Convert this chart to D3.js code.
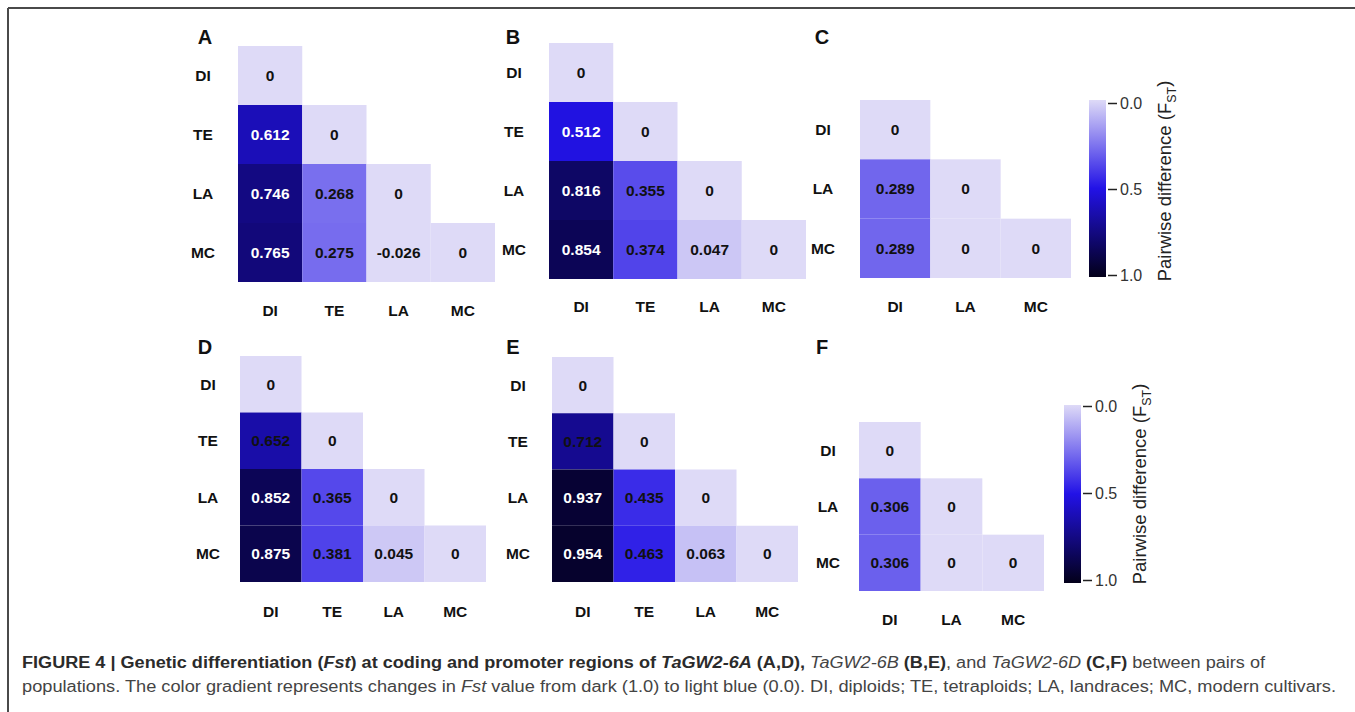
<!DOCTYPE html>
<html>
<head>
<meta charset="utf-8">
<script src="https://cdn.jsdelivr.net/npm/d3@7"></script>
<style>
  html, body { margin: 0; padding: 0; background: #fff; }
  svg { display: block; font-family: "Liberation Sans", Arial, sans-serif; }
</style>
</head>
<body>
<div id="chart"></div>
<script>
// population groups
const pops4 = ["DI", "TE", "LA", "MC"];
const pops3 = ["DI", "LA", "MC"];

// pairwise Fst, lower triangle, row by row
const fstCoding6A = [[0], [0.612, 0], [0.746, 0.268, 0], [0.765, 0.275, -0.026, 0]];
const fstCoding6B = [[0], [0.512, 0], [0.816, 0.355, 0], [0.854, 0.374, 0.047, 0]];
const fstCoding6D = [[0], [0.289, 0], [0.289, 0, 0]];
const fstPromoter6A = [[0], [0.652, 0], [0.852, 0.365, 0], [0.875, 0.381, 0.045, 0]];
const fstPromoter6B = [[0], [0.712, 0], [0.937, 0.435, 0], [0.954, 0.463, 0.063, 0]];
const fstPromoter6D = [[0], [0.306, 0], [0.306, 0, 0]];

const legendTicks = [0, 0.5, 1];

const W = 1355, H = 712;

const svg = d3.select("#chart").append("svg")
    .attr("width", W)
    .attr("height", H);

// frame (left + top rule)
svg.append("line").attr("x1", 8).attr("y1", 8).attr("x2", W).attr("y2", 8)
    .attr("stroke", "#4a4a4a").attr("stroke-width", 2);
svg.append("line").attr("x1", 8).attr("y1", 8).attr("x2", 8).attr("y2", H)
    .attr("stroke", "#4a4a4a").attr("stroke-width", 2);

const color = d3.scaleLinear()
    .domain([0, 0.5, 1])
    .range(["#dedaf7", "#2212e6", "#03001a"])
    .clamp(true);

const fmt = d => d === 0 ? "0" : d3.format(".3f")(d).replace("\u2212", "-");

// panel layout
const panels = [
    {letter: "A", pops: pops4, data: fstCoding6A, x: [238, 495], y: [46, 282], rowX: 203, lx: 205, ly: 37, xLabY: 311, white: 0.5},
    {letter: "B", pops: pops4, data: fstCoding6B, x: [549, 806], y: [43, 279], rowX: 514, lx: 513, ly: 37, xLabY: 307, white: 0.5},
    {letter: "C", pops: pops3, data: fstCoding6D, x: [860, 1071], y: [100, 278], rowX: 823, lx: 822, ly: 37, xLabY: 307, white: 0.5},
    {letter: "D", pops: pops4, data: fstPromoter6A, x: [240, 486], y: [356, 582], rowX: 208, lx: 205, ly: 347, xLabY: 612, white: 0.8},
    {letter: "E", pops: pops4, data: fstPromoter6B, x: [552, 798], y: [357, 582], rowX: 518, lx: 513, ly: 347, xLabY: 612, white: 0.8},
    {letter: "F", pops: pops3, data: fstPromoter6D, x: [859, 1044], y: [422, 591], rowX: 828, lx: 822, ly: 347, xLabY: 620, white: 0.5}
];

panels.forEach(p => {
    const g = svg.append("g");
    const xs = d3.scaleBand().domain(p.pops).range(p.x);
    const ys = d3.scaleBand().domain(p.pops).range(p.y);

    const cells = [];
    p.data.forEach((row, i) => row.forEach((v, j) => {
        cells.push({row: p.pops[i], col: p.pops[j], v: v});
    }));

    g.selectAll("rect").data(cells).enter().append("rect")
        .attr("x", d => xs(d.col))
        .attr("y", d => ys(d.row))
        .attr("width", xs.bandwidth())
        .attr("height", ys.bandwidth())
        .attr("fill", d => color(d.v));

    g.selectAll("text.val").data(cells).enter().append("text")
        .attr("class", "val")
        .attr("x", d => xs(d.col) + xs.bandwidth() / 2)
        .attr("y", d => ys(d.row) + ys.bandwidth() / 2)
        .attr("dy", "0.35em")
        .attr("text-anchor", "middle")
        .attr("font-size", 15.5)
        .attr("font-weight", "bold")
        .attr("fill", d => d.v > p.white ? "#fff" : "#111")
        .text(d => fmt(d.v));

    // row labels
    g.selectAll("text.row").data(p.pops).enter().append("text")
        .attr("class", "row")
        .attr("x", p.rowX)
        .attr("y", d => ys(d) + ys.bandwidth() / 2)
        .attr("dy", "0.35em")
        .attr("text-anchor", "middle")
        .attr("font-size", 15.5)
        .attr("font-weight", "bold")
        .attr("fill", "#111")
        .text(d => d);

    // column labels
    g.selectAll("text.col").data(p.pops).enter().append("text")
        .attr("class", "col")
        .attr("x", d => xs(d) + xs.bandwidth() / 2)
        .attr("y", p.xLabY)
        .attr("dy", "0.35em")
        .attr("text-anchor", "middle")
        .attr("font-size", 15.5)
        .attr("font-weight", "bold")
        .attr("fill", "#111")
        .text(d => d);

    g.append("text")
        .attr("x", p.lx)
        .attr("y", p.ly)
        .attr("dy", "0.35em")
        .attr("text-anchor", "middle")
        .attr("font-size", 20)
        .attr("font-weight", "bold")
        .attr("fill", "#111")
        .text(p.letter);
});

// colour bars
const defs = svg.append("defs");
const grad = defs.append("linearGradient").attr("id", "fstGrad")
    .attr("x1", 0).attr("y1", 0).attr("x2", 0).attr("y2", 1);
d3.range(0, 1.0001, 0.05).forEach(t => {
    grad.append("stop").attr("offset", t).attr("stop-color", color(t));
});

const bars = [
    {x: 1089, y: [100, 277], s: [103, 275], titleX: 1165, titleY: 181},
    {x: 1064, y: [405, 583], s: [406, 580], titleX: 1140, titleY: 484}
];

bars.forEach(b => {
    const g = svg.append("g");
    const bw = 17;
    g.append("rect")
        .attr("x", b.x).attr("y", b.y[0])
        .attr("width", bw).attr("height", b.y[1] - b.y[0])
        .attr("fill", "url(#fstGrad)");

    const sc = d3.scaleLinear().domain([0, 1]).range(b.s);
    const ax = g.append("g")
        .attr("transform", `translate(${b.x + bw + 2},0)`)
        .call(d3.axisRight(sc).tickValues(legendTicks).tickFormat(d3.format(".1f")).tickSize(9).tickPadding(3));
    ax.select(".domain").remove();
    ax.selectAll("line").attr("stroke", "#222").attr("stroke-width", 1.5);
    ax.selectAll("text").attr("font-size", 16).attr("fill", "#333")
        .attr("font-family", "'Liberation Sans', Arial, sans-serif");

    const t = g.append("text")
        .attr("transform", `translate(${b.titleX},${b.titleY}) rotate(-90)`)
        .attr("text-anchor", "middle")
        .attr("dy", "0.35em")
        .attr("font-size", 18.5)
        .attr("fill", "#222");
    t.append("tspan").text("Pairwise difference (F");
    t.append("tspan").attr("font-size", 12.5).attr("dy", "0.35em").text("ST");
    t.append("tspan").attr("dy", "-0.3em").text(")");
});

// caption
const cap1 = svg.append("text")
    .attr("x", 22).attr("y", 668)
    .attr("font-size", 16)
    .attr("fill", "#2b2b2b")
    .attr("textLength", 1243)
    .attr("lengthAdjust", "spacingAndGlyphs");
[
    ["FIGURE 4 | Genetic differentiation (", "bold", "normal"],
    ["Fst", "bold", "italic"],
    [") at coding and promoter regions of ", "bold", "normal"],
    ["TaGW2-6A", "bold", "italic"],
    [" (A,D), ", "bold", "normal"],
    ["TaGW2-6B", "normal", "italic"],
    [" ", "normal", "normal"],
    ["(B,E)", "bold", "normal"],
    [", and ", "normal", "normal"],
    ["TaGW2-6D", "normal", "italic"],
    [" ", "normal", "normal"],
    ["(C,F)", "bold", "normal"],
    [" between pairs of", "normal", "normal"]
].forEach(s => {
    cap1.append("tspan").attr("font-weight", s[1]).attr("font-style", s[2])
        .attr("fill", s[1] === "bold" ? "#2b2b2b" : "#444").text(s[0]);
});

const cap2 = svg.append("text")
    .attr("x", 22).attr("y", 692)
    .attr("font-size", 16)
    .attr("fill", "#444")
    .attr("textLength", 1314)
    .attr("lengthAdjust", "spacingAndGlyphs");
cap2.append("tspan").text("populations. The color gradient represents changes in ");
cap2.append("tspan").attr("font-style", "italic").text("Fst");
cap2.append("tspan").text(" value from dark (1.0) to light blue (0.0). DI, diploids; TE, tetraploids; LA, landraces; MC, modern cultivars.");
</script>
</body>
</html>
